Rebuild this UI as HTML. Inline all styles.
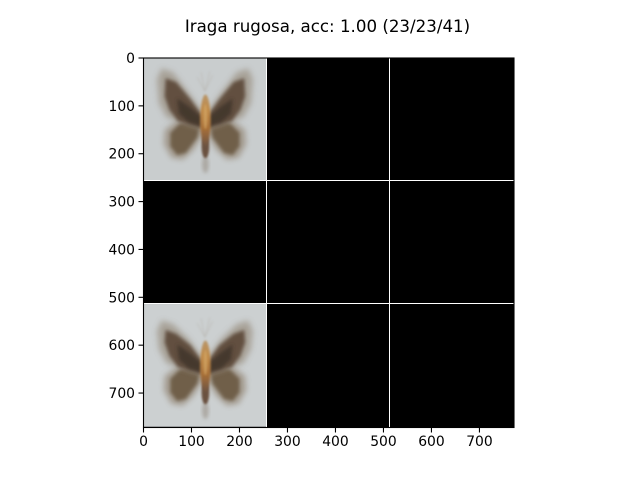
<!DOCTYPE html>
<html>
<head>
<meta charset="utf-8">
<style>
html,body{margin:0;padding:0;background:#fff;width:640px;height:480px;overflow:hidden}
svg{display:block}
text{font-family:"DejaVu Sans",sans-serif;fill:#000}
</style>
</head>
<body>
<svg id="chart" width="640" height="480" viewBox="0 0 640 480" xmlns="http://www.w3.org/2000/svg">
  <defs>
    <filter id="b2" x="-30%" y="-30%" width="160%" height="160%"><feGaussianBlur stdDeviation="2"/></filter>
    <filter id="b3" x="-30%" y="-30%" width="160%" height="160%"><feGaussianBlur stdDeviation="4"/></filter>
    <filter id="b5" x="-30%" y="-30%" width="160%" height="160%"><feGaussianBlur stdDeviation="6"/></filter>
    <clipPath id="tile-clip"><rect x="0" y="0" width="256" height="256"/></clipPath>
    <linearGradient id="body-grad" x1="0" y1="0" x2="0" y2="1">
      <stop offset="0" stop-color="#b8966a"/>
      <stop offset="0.3" stop-color="#c08a48"/>
      <stop offset="0.65" stop-color="#a87038"/>
      <stop offset="1" stop-color="#6d5342"/>
    </linearGradient>
  </defs>
  <text x="327.5" y="32" font-size="16.67" text-anchor="middle">Iraga rugosa, acc: 1.00 (23/23/41)</text>
  <g id="plot"></g>
  <g id="ticks"></g>
  <rect x="143.5" y="58" width="370.5" height="369.5" fill="none" stroke="#000" stroke-width="1.1"/>
</svg>
<script>
const xTicks = [0, 100, 200, 300, 400, 500, 600, 700];
const yTicks = [0, 100, 200, 300, 400, 500, 600, 700];
const dataExtent = [772];
const tileSize = [256];
const gridLines = [256, 512];
const tileRows = [0, 514];
const tileBackgrounds = ['#c9cdce', '#ccd0d1'];
const wingLift = [0, 12];

const NS = 'http://www.w3.org/2000/svg';
const left = 143.5, top0 = 58, plotW = 370.5, plotH = 369.5;
function sx(v) { return left + v / dataExtent[0] * plotW; }
function sy(v) { return top0 + v / dataExtent[0] * plotH; }
function snap(p) { return Math.floor(p) + 0.5; }
function make(tag, attrs, parent) {
  const el = document.createElementNS(NS, tag);
  for (const k in attrs) el.setAttribute(k, attrs[k]);
  parent.appendChild(el);
  return el;
}
const plot = document.getElementById('plot');
const ticks = document.getElementById('ticks');

const bg = make('rect', { x: sx(0), y: sy(0), width: sx(dataExtent[0]) - sx(0), height: sy(dataExtent[0]) - sy(0), fill: '#000' }, plot);



function drawMoth(row, i) {
  const scale = plotW / dataExtent[0];
  const t = make('g', { transform: 'translate(' + sx(0) + ',' + sy(row) + ') scale(' + scale + ')', 'clip-path': 'url(#tile-clip)' }, plot);
  
  
  make('rect', { x: 0, y: 0, width: tileSize[0], height: tileSize[0], fill: tileBackgrounds[i] }, t);
  make('line', { x1: 128, x2: 128, y1: 0, y2: 256, stroke: '#d4d7d7', 'stroke-width': 3, opacity: 0.7, filter: 'url(#b2)' }, t);
  make('path', { d: 'M128 70 L112 40 M128 70 L144 36 M128 70 L120 30 M128 70 L138 28', stroke: '#b4b0aa', 'stroke-width': 2, fill: 'none', opacity: 0.5, filter: 'url(#b2)' }, t);
  const l = wingLift[i];
  function side(g) {
    make('path', { d: 'M122 130 L72 128 L44 150 L42 180 L58 208 L82 212 L104 192 L124 160 Z', fill: '#a0978a', opacity: 0.9, filter: 'url(#b5)' }, g);
    make('path', { d: 'M120 130 L78 134 L56 156 L56 184 L70 202 L88 198 L112 166 Z', fill: '#6f5e4a', filter: 'url(#b3)' }, g);
    make('path', { d: 'M126 116 L94 72 L62 ' + (30 + l) + ' L38 ' + (22 + l) + ' L28 ' + (44 + l) + ' L32 94 L48 124 L122 148 Z', fill: '#a39b90', opacity: 0.85, filter: 'url(#b5)' }, g);
    make('path', { d: 'M124 122 L98 86 L68 ' + (50 + l) + ' L46 ' + (42 + l) + ' L44 80 L54 108 L72 132 L122 146 Z', fill: '#625040', filter: 'url(#b3)' }, g);
    make('path', { d: 'M122 124 L96 102 L70 84 L74 116 L94 134 L120 142 Z', fill: '#40352b', opacity: 0.85, filter: 'url(#b3)' }, g);
  }
  const leftSide = make('g', {}, t);
  side(leftSide);
  const rightSide = make('g', { transform: 'translate(256,0) scale(-1,1)' }, t);
  side(rightSide);
  make('ellipse', { cx: 129, cy: 222, rx: 7, ry: 18, fill: '#a09a92', opacity: 0.7, filter: 'url(#b3)' }, t);
  make('ellipse', { cx: 129, cy: 185, rx: 8, ry: 24, fill: '#6a5140', filter: 'url(#b2)' }, t);
  make('ellipse', { cx: 129, cy: 130, rx: 11, ry: 54, fill: 'url(#body-grad)', filter: 'url(#b2)' }, t);
  make('ellipse', { cx: 129, cy: 122, rx: 4, ry: 26, fill: '#d4a868', opacity: 0.7, filter: 'url(#b2)' }, t);
}
tileRows.forEach(drawMoth);

gridLines.forEach(function (g) {
  const v = make('line', { x1: snap(sx(g)), x2: snap(sx(g)), y1: sy(0), y2: sy(dataExtent[0]), stroke: '#fff', 'stroke-width': 1 }, plot);
  
  
  const h = make('line', { x1: sx(0), x2: sx(dataExtent[0]), y1: snap(sy(g)), y2: snap(sy(g)), stroke: '#fff', 'stroke-width': 1 }, plot);
  
  
});

xTicks.forEach(function (v) {
  const x = sx(v);
  const m = make('line', { x1: x, x2: x, y1: top0 + plotH, y2: top0 + plotH + 5, stroke: '#000', 'stroke-width': 1.1 }, ticks);
  
  
  const t = make('text', { x: x, y: 446, 'font-size': 13.9, 'text-anchor': 'middle' }, ticks);
  
  
  t.textContent = v;
});
yTicks.forEach(function (v) {
  const y = sy(v);
  const m = make('line', { x1: left - 5, x2: left, y1: y, y2: y, stroke: '#000', 'stroke-width': 1.1 }, ticks);
  
  
  const t = make('text', { x: 135, y: y + 5, 'font-size': 13.9, 'text-anchor': 'end' }, ticks);
  
  
  t.textContent = v;
});
</script>
</body>
</html>
